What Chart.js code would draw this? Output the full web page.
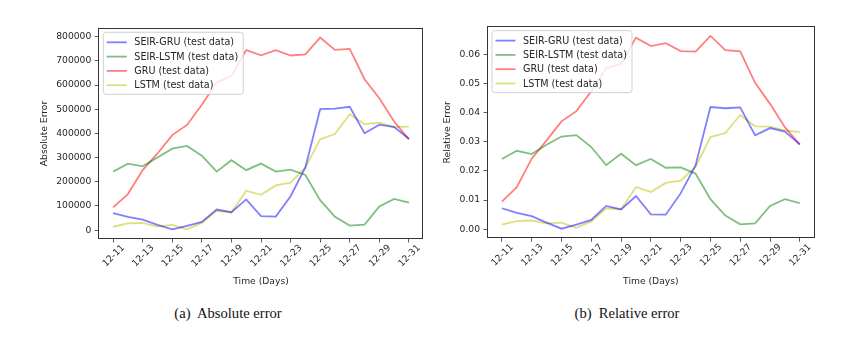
<!DOCTYPE html>
<html>
<head>
<meta charset="utf-8">
<script src="https://cdn.jsdelivr.net/npm/chart.js@4"></script>
<style>
  html, body { margin: 0; padding: 0; background: #fff; }
  body { width: 856px; height: 338px; position: relative; overflow: hidden; }
  canvas { position: absolute; top: 0; }
  #cA { left: 0; }
  #cB { left: 440px; }
  .cap { position: absolute; font-family: "Liberation Serif", "DejaVu Serif", serif; font-size: 14.6px; color: #111;
         white-space: pre; transform: translate(-50%, -50%); top: 312.5px; }
</style>
</head>
<body>
<canvas id="cA" width="440" height="300"></canvas>
<canvas id="cB" width="416" height="300"></canvas>
<div class="cap" style="left:228px">(a)  Absolute error</div>
<div class="cap" style="left:627px">(b)  Relative error</div>
<script>
// ---- data ----
const days = ['12-11','12-12','12-13','12-14','12-15','12-16','12-17','12-18','12-19','12-20','12-21',
              '12-22','12-23','12-24','12-25','12-26','12-27','12-28','12-29','12-30','12-31'];
const seriesNames = ['SEIR-GRU (test data)', 'SEIR-LSTM (test data)', 'GRU (test data)', 'LSTM (test data)'];

const absSeirGru  = [70000, 55000, 43000, 22000, 3000, 18000, 34000, 85000, 74000, 127000, 58000,
                     56000, 140000, 259000, 500000, 502000, 510000, 400000, 436000, 426000, 378000];
const absSeirLstm = [242000, 275000, 264000, 300000, 337000, 348000, 308000, 242000, 289000, 248000, 275000,
                     242000, 250000, 228000, 124000, 55000, 19000, 23000, 98000, 129000, 114000];
const absGru      = [94000, 149000, 248000, 317000, 393000, 435000, 518000, 610000, 638000, 744000, 723000,
                     744000, 722000, 727000, 796000, 745000, 749000, 624000, 545000, 449000, 375000];
const absLstm     = [14000, 28000, 30000, 15000, 22000, 3000, 30000, 80000, 73000, 163000, 146000,
                     185000, 196000, 259000, 376000, 397000, 479000, 438000, 444000, 427000, 428000];

const relSeirGru  = [0.0072, 0.0056, 0.0045, 0.0023, 0.0002, 0.0016, 0.0032, 0.0080, 0.0068, 0.0114, 0.0051,
                     0.0050, 0.0123, 0.0219, 0.0419, 0.0415, 0.0418, 0.0322, 0.0347, 0.0335, 0.0291];
const relSeirLstm = [0.0241, 0.0269, 0.0258, 0.0290, 0.0318, 0.0323, 0.0282, 0.0220, 0.0259, 0.0220, 0.0241,
                     0.0211, 0.0212, 0.0191, 0.0103, 0.0047, 0.0017, 0.0020, 0.0080, 0.0103, 0.0090];
const relGru      = [0.0095, 0.0144, 0.0242, 0.0305, 0.0370, 0.0405, 0.0473, 0.0552, 0.0568, 0.0657, 0.0628,
                     0.0638, 0.0611, 0.0609, 0.0663, 0.0614, 0.0610, 0.0502, 0.0430, 0.0350, 0.0290];
const relLstm     = [0.0016, 0.0028, 0.0030, 0.0020, 0.0023, 0.0005, 0.0027, 0.0072, 0.0068, 0.0145, 0.0128,
                     0.0159, 0.0167, 0.0214, 0.0316, 0.0330, 0.0392, 0.0353, 0.0352, 0.0339, 0.0333];

const xTickIdx = [0, 2, 4, 6, 8, 10, 12, 14, 16, 18, 20];
const absTicks = [0, 100000, 200000, 300000, 400000, 500000, 600000, 700000, 800000];
const relTicks = [0, 0.01, 0.02, 0.03, 0.04, 0.05, 0.06];

// ---- styling ----
const colors = ['rgba(0,0,255,0.5)', 'rgba(0,128,0,0.5)', 'rgba(255,0,0,0.5)', 'rgba(191,191,0,0.5)'];
const FONT = { family: '"DejaVu Sans", sans-serif', size: 9.2 };
const TXT = '#262626';

const framePlugin = {
  id: 'frame',
  afterDraw(chart) {
    const { ctx, chartArea: a } = chart;
    ctx.save();
    ctx.strokeStyle = '#333';
    ctx.lineWidth = 1;
    ctx.strokeRect(Math.round(a.left) + 0.5, Math.round(a.top) + 0.5,
                   Math.round(a.right - a.left) - 1, Math.round(a.bottom - a.top) - 1);
    ctx.restore();
  }
};

const legendPlugin = {
  id: 'mplLegend',
  afterDatasetsDraw(chart) {
    const { ctx, chartArea: a } = chart;
    const x0 = a.left + 5, y0 = a.top + 4.3, w = 140, h = 62, r = 3;
    ctx.save();
    ctx.beginPath();
    ctx.moveTo(x0 + r, y0);
    ctx.lineTo(x0 + w - r, y0); ctx.quadraticCurveTo(x0 + w, y0, x0 + w, y0 + r);
    ctx.lineTo(x0 + w, y0 + h - r); ctx.quadraticCurveTo(x0 + w, y0 + h, x0 + w - r, y0 + h);
    ctx.lineTo(x0 + r, y0 + h); ctx.quadraticCurveTo(x0, y0 + h, x0, y0 + h - r);
    ctx.lineTo(x0, y0 + r); ctx.quadraticCurveTo(x0, y0, x0 + r, y0);
    ctx.closePath();
    ctx.fillStyle = 'rgba(255,255,255,0.8)';
    ctx.fill();
    ctx.strokeStyle = 'rgba(204,204,204,0.9)';
    ctx.lineWidth = 1;
    ctx.stroke();
    ctx.font = '9.6px "DejaVu Sans", sans-serif';
    ctx.textBaseline = 'middle';
    ctx.textAlign = 'left';
    chart.data.datasets.forEach((ds, i) => {
      const cy = y0 + 10 + i * 14.3;
      ctx.strokeStyle = ds.borderColor;
      ctx.lineWidth = 1.8;
      ctx.beginPath();
      ctx.moveTo(x0 + 3.5, cy); ctx.lineTo(x0 + 23.5, cy);
      ctx.stroke();
      ctx.fillStyle = TXT;
      ctx.fillText(ds.label, x0 + 31, cy + 0.5);
    });
    ctx.restore();
  }
};

function makeChart(id, series, yTicks, yMin, yMax, yTitle, fmt, geom) {
  return new Chart(document.getElementById(id), {
    type: 'line',
    data: {
      datasets: series.map((vals, k) => ({
        label: seriesNames[k],
        data: vals.map((v, i) => ({ x: i, y: v })),
        borderColor: colors[k],
        borderWidth: 1.8,
        pointRadius: 0,
        tension: 0,
        fill: false
      }))
    },
    options: {
      responsive: false,
      animation: false,
      devicePixelRatio: 1,
      layout: { padding: { top: geom.top, right: geom.right, bottom: 0, left: 0 } },
      plugins: { legend: { display: false }, tooltip: { enabled: false } },
      scales: {
        x: {
          type: 'linear', min: -1, max: 21,
          afterBuildTicks: s => { s.ticks = xTickIdx.map(v => ({ value: v })); },
          afterFit: s => { s.height = geom.xh; },
          grid: { display: true, drawOnChartArea: false, drawTicks: true, tickLength: 3.5, tickColor: '#333', tickWidth: 0.8 },
          border: { display: false },
          ticks: {
            autoSkip: false, minRotation: 45, maxRotation: 45, padding: 0, labelOffset: 10,
            color: TXT, font: FONT,
            callback: v => days[v]
          },
          title: { display: true, text: 'Time (Days)', color: TXT, font: FONT, padding: { top: 0, bottom: 12.5 } }
        },
        y: {
          type: 'linear', min: yMin, max: yMax,
          afterBuildTicks: s => { s.ticks = yTicks.map(v => ({ value: v })); },
          afterFit: s => { s.width = geom.yw; },
          grid: { display: true, drawOnChartArea: false, drawTicks: true, tickLength: 3.5, tickColor: '#333', tickWidth: 0.8 },
          border: { display: false },
          ticks: { padding: 3.5, color: TXT, font: FONT, callback: fmt },
          title: { display: true, text: yTitle, color: TXT, font: FONT, padding: { top: geom.ytp, bottom: 0 } }
        }
      }
    },
    plugins: [framePlugin, legendPlugin]
  });
}

makeChart('cA', [absSeirGru, absSeirLstm, absGru, absLstm], absTicks, -36650, 835650, 'Absolute Error',
          v => String(Math.round(v)),
          { top: 28, right: 16.3, xh: 61, yw: 98.3, ytp: 38.6 });
makeChart('cB', [relSeirGru, relSeirLstm, relGru, relLstm], relTicks, -0.0031, 0.0696, 'Relative Error',
          v => v.toFixed(2),
          { top: 26.3, right: 41.3, xh: 61.7, yw: 47, ytp: 1.9 });
</script>
</body>
</html>
